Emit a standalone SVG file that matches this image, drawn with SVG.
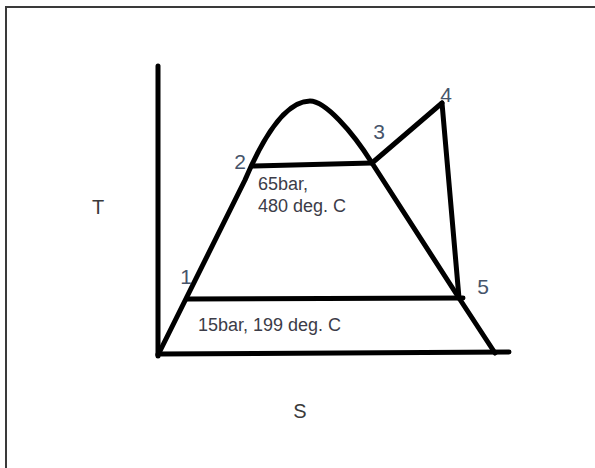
<svg xmlns="http://www.w3.org/2000/svg" width="595" height="468" viewBox="0 0 595 468">
  <style>
    .frame { fill: none; stroke: #3a3a3a; stroke-width: 2; }
    .ln { fill: none; stroke: #000; stroke-width: 5; stroke-linecap: round; stroke-linejoin: round; }
    .pt { font-family: "Liberation Sans", Arial, sans-serif; font-size: 21px; fill: #46546a; text-anchor: middle; }
    .ax { font-family: "Liberation Sans", Arial, sans-serif; font-size: 20px; fill: #3a3a3a; text-anchor: middle; }
    .note { font-family: "Liberation Sans", Arial, sans-serif; font-size: 18px; fill: #3c3c48; }
  </style>
  <rect width="595" height="468" fill="#ffffff"/>
  <path class="frame" d="M6,468 L6,7 L595,7"/>

  <g id="connectors">
    <g id="axes">
      <path class="ln" d="M158,66 L158,356"/>
      <path class="ln" d="M158,354 L509,352"/>
    </g>
    <path id="saturation-dome" class="ln" d="M158,355 L245,180 C262,140 285,101 310,101 C325,101 352,131 372,163 L459,298 L495,353"/>
    <path id="line-2-3" class="ln" d="M253,166 L372,163"/>
    <path id="line-3-4" class="ln" d="M372,163 L442,103"/>
    <path id="line-4-5" class="ln" d="M442,103 L459,298"/>
    <path id="line-1-5" class="ln" d="M187,299 L463,298"/>
  </g>

  <g id="p1"><text class="pt" x="186" y="284">1</text></g>
  <g id="p2"><text class="pt" x="240" y="169">2</text></g>
  <g id="p3"><text class="pt" x="379" y="139">3</text></g>
  <g id="p4"><text class="pt" x="446" y="102">4</text></g>
  <g id="p5"><text class="pt" x="483" y="294">5</text></g>

  <g id="axis-T"><text class="ax" x="98" y="214">T</text></g>
  <g id="axis-S"><text class="ax" x="300" y="418">S</text></g>

  <g id="note-high">
    <text class="note" x="258" y="190">65bar,</text>
    <text class="note" x="258" y="212">480 deg. C</text>
  </g>
  <g id="note-low"><text class="note" x="198" y="331">15bar, 199 deg. C</text></g>
</svg>
